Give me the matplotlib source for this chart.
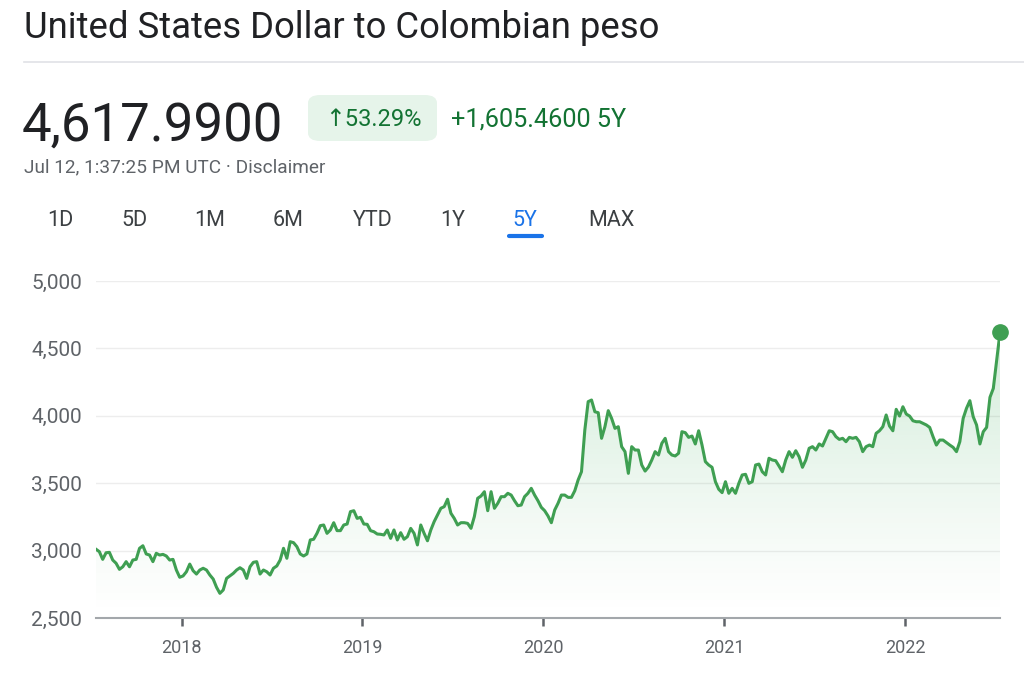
import numpy as np
import pandas as pd
import matplotlib.pyplot as plt
import matplotlib.dates as mdates
from matplotlib.patches import FancyBboxPatch

plt.rcParams['font.family'] = ['Roboto', 'DejaVu Sans']

# weekly-ish USD/COP closes, Jul 2017 -> Jul 2022
rate_2017_18 = [3010, 2992, 2935, 2984, 2987, 2930, 2906, 2861, 2880, 2918, 2880, 2930, 2935, 3017,
                3036, 2975, 2967, 2918, 2980, 2967, 2972, 2960, 2930, 2935, 2856, 2802, 2812, 2843,
                2900, 2851, 2826, 2856, 2869, 2856, 2819, 2789, 2728, 2683, 2708, 2794, 2812, 2831,
                2856, 2873, 2856, 2794, 2880, 2913, 2918, 2826, 2856, 2843, 2819, 2869, 2886]
rate_2018_19 = [2930, 3017, 2943, 3066, 3059, 3029, 2975, 2960, 2975, 3079, 3084, 3128, 3185, 3190,
                3128, 3153, 3207, 3148, 3148, 3190, 3197, 3289, 3296, 3239, 3247, 3197, 3195, 3148,
                3140, 3123, 3121, 3116, 3153, 3091, 3153, 3079, 3133, 3084, 3103, 3165, 3128, 3042,
                3190, 3128, 3073, 3153, 3215, 3264, 3314, 3326, 3381, 3277, 3239, 3190, 3207]
rate_2019_20 = [3207, 3202, 3165, 3252, 3388, 3405, 3437, 3296, 3437, 3314, 3351, 3400, 3400, 3425,
                3412, 3370, 3333, 3338, 3400, 3425, 3462, 3412, 3370, 3321, 3296, 3257, 3207, 3301,
                3351, 3412, 3412, 3395, 3395, 3444, 3524, 3585, 3895, 4105, 4117, 4030, 4023, 3833,
                3919, 4038, 3981, 3907, 3919, 3771, 3734, 3573, 3771, 3746, 3746, 3635, 3590]
rate_2020_21 = [3620, 3672, 3734, 3709, 3796, 3833, 3734, 3709, 3702, 3722, 3882, 3875, 3840, 3850,
                3791, 3889, 3783, 3660, 3635, 3618, 3511, 3455, 3430, 3511, 3425, 3462, 3425, 3499,
                3561, 3566, 3499, 3511, 3635, 3642, 3585, 3561, 3685, 3672, 3667, 3627, 3585, 3672,
                3734, 3692, 3741, 3696, 3618, 3672, 3759, 3771, 3746]
rate_2021_22 = [3791, 3776, 3833, 3889, 3882, 3845, 3825, 3833, 3808, 3840, 3833, 3840, 3808, 3734,
                3771, 3783, 3771, 3870, 3889, 3919, 4006, 3924, 3889, 4048, 3998, 4067, 4013, 3998,
                3963, 3956, 3956, 3944, 3932, 3914, 3845, 3783, 3820, 3820, 3801, 3783, 3766, 3734,
                3808, 3981, 4056, 4112, 3993, 3932, 3791, 3882, 3914, 4137, 4203, 4414, 4618]

usd_cop = rate_2017_18 + rate_2018_19 + rate_2019_20 + rate_2020_21 + rate_2021_22
dates = pd.date_range('2017-07-12', '2022-07-12', periods=len(usd_cop))

year_ticks = pd.to_datetime(['2018-01-01', '2019-01-01', '2020-01-01', '2021-01-01', '2022-01-01'])
year_labels = ['2018', '2019', '2020', '2021', '2022']
y_ticks = [2500, 3000, 3500, 4000, 4500, 5000]
y_labels = ['2,500', '3,000', '3,500', '4,000', '4,500', '5,000']

green = '#3f9f52'
dark_green = '#137333'
grey = '#5f6368'

W, H = 1024, 674
fig = plt.figure(figsize=(W / 100, H / 100), dpi=100)

def fy(py):
    return 1 - py / H

# header
fig.text(24 / W, fy(38), 'United States Dollar to Colombian peso', fontsize=26.3, color='#202124', va='baseline')
fig.add_artist(plt.Line2D([24 / W, 1], [fy(62), fy(62)], color='#e0e2e6', lw=1.2))
fig.text(22 / W, fy(141), '4,617.9900', fontsize=38, color='#202124', va='baseline')
badge = FancyBboxPatch((308 / W, fy(141)), 129 / W, 46 / H, boxstyle='round,pad=0,rounding_size=0.012',
                       transform=fig.transFigure, facecolor='#e6f4ea', edgecolor='none')
fig.add_artist(badge)
fig.text(373 / W, fy(126), '↑53.29%', fontsize=17, color=dark_green, va='baseline', ha='center')
fig.text(451 / W, fy(126), '+1,605.4600 5Y', fontsize=18.2, color=dark_green, va='baseline')
fig.text(24 / W, fy(172), 'Jul 12, 1:37:25 PM UTC · Disclaimer', fontsize=13.7, color=grey, va='baseline')

tabs = ['1D', '5D', '1M', '6M', 'YTD', '1Y', '5Y', 'MAX']
tab_x = [60, 134, 210, 288, 373, 453, 525, 611]
for t, x in zip(tabs, tab_x):
    fig.text(x / W, fy(226), t, fontsize=15.5, ha='center', va='baseline',
             color='#1a73e8' if t == '5Y' else '#3c4043')
fig.add_artist(plt.Line2D([509 / W, 542 / W], [fy(236), fy(236)], color='#1a73e8', lw=3,
                          solid_capstyle='round'))

# chart
ax = fig.add_axes([96 / W, fy(618), 904 / W, 337 / H])
ax.plot(dates, usd_cop, color=green, lw=2.2, zorder=4)
ax.plot(dates[-1], usd_cop[-1], 'o', ms=11, color=green, clip_on=False, zorder=5)

xn = mdates.date2num(dates)
poly = ax.fill_between(dates, usd_cop, 2500, color='none', lw=0)
ramp = np.linspace(0, 1, 256)
grad = np.zeros((256, 1, 4))
grad[:, 0, 0] = 52 / 255
grad[:, 0, 1] = 168 / 255
grad[:, 0, 2] = 83 / 255
grad[:, 0, 3] = 0.27 * ramp ** 1.2
img = ax.imshow(grad, extent=[xn[0], xn[-1], 2500, 5000], origin='lower', aspect='auto', zorder=1)
img.set_clip_path(poly.get_paths()[0], transform=ax.transData)

ax.set_xlim(dates[0], dates[-1])
ax.set_ylim(2500, 5000)
ax.set_xticks(year_ticks)
ax.set_xticklabels(year_labels)
ax.set_yticks(y_ticks)
ax.set_yticklabels(y_labels)
ax.grid(axis='y', color='#ededed', lw=1)
ax.set_axisbelow(True)
for s in ['top', 'right', 'left']:
    ax.spines[s].set_visible(False)
ax.spines['bottom'].set_color('#a3a7ab')
ax.spines['bottom'].set_linewidth(1.5)
ax.tick_params(axis='x', length=6, width=1.8, color=grey, pad=9, labelsize=13, labelcolor=grey)
ax.tick_params(axis='y', length=0, pad=10, labelsize=15, labelcolor=grey)

fig.savefig('out.png', dpi=100)
